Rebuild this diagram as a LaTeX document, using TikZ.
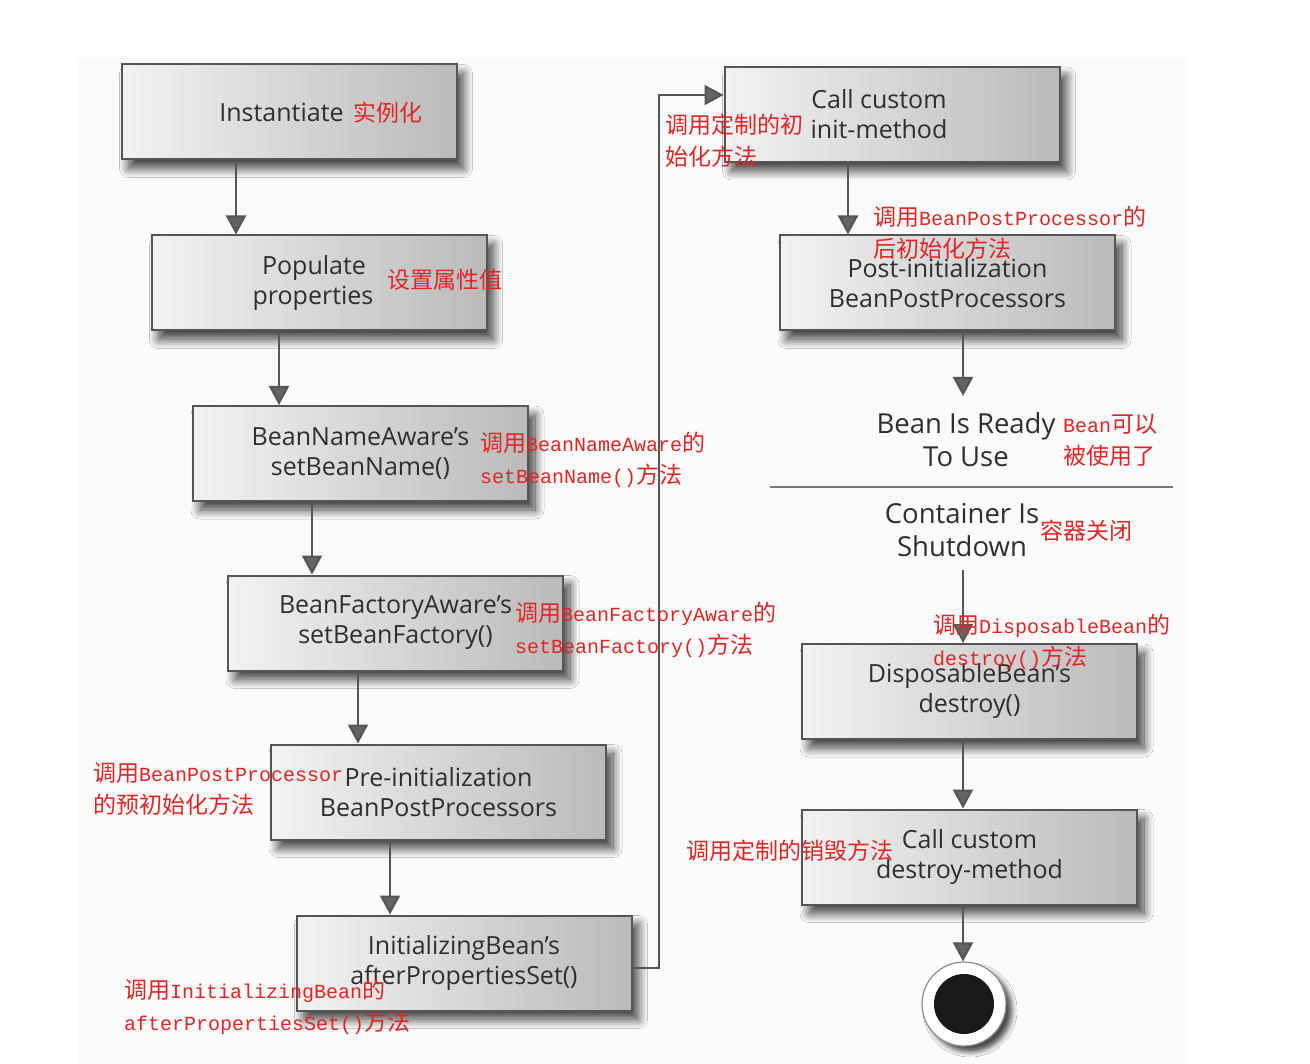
\documentclass[tikz,border=0pt]{standalone}
\usepackage{fontspec}
\setmainfont{Open Sans}
\newfontfamily\cjk{Noto Sans CJK SC}
\newfontfamily\rmono{Liberation Mono}
\usetikzlibrary{arrows.meta,shadows.blur,calc}
\definecolor{redtxt}{RGB}{226,36,36}
\definecolor{linegray}{RGB}{85,85,85}
\definecolor{tipgray}{RGB}{100,100,100}
\newcommand\mo[1]{{\rmono\fontsize{20}{20}\selectfont #1}}
\tikzset{
  box/.style={draw=linegray, line width=2pt, left color=black!5, right color=black!27,
    blur shadow={shadow xshift=7pt, shadow yshift=-9pt, shadow blur radius=9pt, shadow blur steps=20, shadow opacity=75},
    minimum width=335pt, minimum height=95pt, inner sep=0pt, align=center,
    text=black!82, font=\fontsize{25}{30}\selectfont},
  plain/.style={align=center, text=black!82, inner sep=0pt, font=\fontsize{27.5}{33}\selectfont},
  note/.style={text=redtxt, anchor=west, align=left, inner sep=0pt, font=\cjk\fontsize{23}{32}\selectfont},
  arr/.style={draw=linegray, line width=2.2pt, -{Triangle[width=20pt,length=19pt,fill=tipgray]}},
  thinarr/.style={draw=linegray, line width=1.4pt, -{Triangle[width=20pt,length=19pt,fill=tipgray]}},
}
\begin{document}
\begin{tikzpicture}[x=1pt,y=-1pt]
\useasboundingbox (0,0) rectangle (1310,1064);
\fill[black!1.5] (78,58) rectangle (1188,1064);

% boxes
\node[box] (b1) at (289,112) {Instantiate\hspace*{15pt}};
\node[box] (b2) at (319,283) {Populate\hspace*{10pt}\\properties\hspace*{12pt}};
\node[box] (b3) at (360.5,453.5) {BeanNameAware's\\setBeanName()};
\node[box] (b4) at (395.5,623) {BeanFactoryAware's\\setBeanFactory()};
\node[box] (b5) at (438.5,792) {Pre-initialization\\BeanPostProcessors};
\node[box] (b6) at (464,963) {InitializingBean's\\afterPropertiesSet()};
\node[box] (b7) at (892,114.5) {Call custom\hspace*{26pt}\\init-method\hspace*{26pt}};
\node[box] (b8) at (947.5,283) {Post-initialization\\BeanPostProcessors};
\node[plain] (ready) at (966,440) {Bean Is Ready\\To Use};
\node[plain] (shut) at (962,530) {Container Is\\Shutdown};
\node[box] (b9) at (969.5,691.5) {DisposableBean's\\destroy()};
\node[box] (b10) at (969.5,857) {Call custom\\destroy-method};
\node[circle, draw=black!45, line width=1.2pt, fill=white, minimum size=84pt, inner sep=0pt,
  blur shadow={shadow xshift=6pt, shadow yshift=-6pt, shadow blur radius=5pt, shadow opacity=70}] (endc) at (964,1004) {};
\node[circle, fill=black!90, minimum size=60pt, inner sep=0pt] (endd) at (endc.center) {};

% divider
\coordinate (dl) at (770,487);
\coordinate (dr) at (1173,487);
\draw[linegray!80, line width=2pt] (dl) -- (dr);

% connector x positions
\coordinate (x1) at (236,0);
\coordinate (x2) at (279,0);
\coordinate (x3) at (312,0);
\coordinate (x4) at (358,0);
\coordinate (x5) at (390,0);
\coordinate (x7) at (848,0);
\coordinate (x8) at (963,0);
\coordinate (readytop) at (963,396);
\coordinate (shutb) at (963,570);
\coordinate (j1) at (659,968);
\coordinate (j2) at (659,95);
\coordinate (o6) at (632,968);

\draw[arr] (b1.south -| x1) -- (b2.north -| x1);
\draw[arr] (b2.south -| x2) -- (b3.north -| x2);
\draw[arr] (b3.south -| x3) -- (b4.north -| x3);
\draw[arr] (b4.south -| x4) -- (b5.north -| x4);
\draw[arr] (b5.south -| x5) -- (b6.north -| x5);
\draw[draw=linegray, line width=2pt, -{Triangle[width=20pt,length=19pt,fill=tipgray]}]
  (o6) -- (j1) -- (j2) -- (j2 -| b7.west);
\draw[arr] (b7.south -| x7) -- (b8.north -| x7);
\draw[arr] (b8.south -| x8) -- (readytop);
\draw[thinarr] (shutb) -- (b9.north -| x8);
\draw[arr] (b9.south -| x8) -- (b10.north -| x8);
\draw[arr] (b10.south -| x8) -- (endc.north -| x8);

% red annotations
\node[note] (n1) at (353,113) {实例化};
\node[note] (n2) at (387,280) {设置属性值};
\node[note] (n3) at (480,460) {调用\mo{BeanNameAware}的\\\mo{setBeanName()}方法};
\node[note] (n4) at (515,630) {调用\mo{BeanFactoryAware}的\\\mo{setBeanFactory()}方法};
\node[note] (n5) at (93,789) {调用\mo{BeanPostProcessor}\\的预初始化方法};
\node[note] (n6) at (124,1007) {调用\mo{InitializingBean}的\\\mo{afterPropertiesSet()}方法};
\node[note] (n7) at (665,141) {调用定制的初\\始化方法};
\node[note] (n8) at (873,233) {调用\mo{BeanPostProcessor}的\\后初始化方法};
\node[note] (n9) at (1063,440) {\mo{Bean}可以\\被使用了};
\node[note] (n10) at (1040,531) {容器关闭};
\node[note] (n11) at (933,642) {调用\mo{DisposableBean}的\\\mo{destroy()}方法};
\node[note] (n12) at (686,851) {调用定制的销毁方法};
\end{tikzpicture}
\end{document}
